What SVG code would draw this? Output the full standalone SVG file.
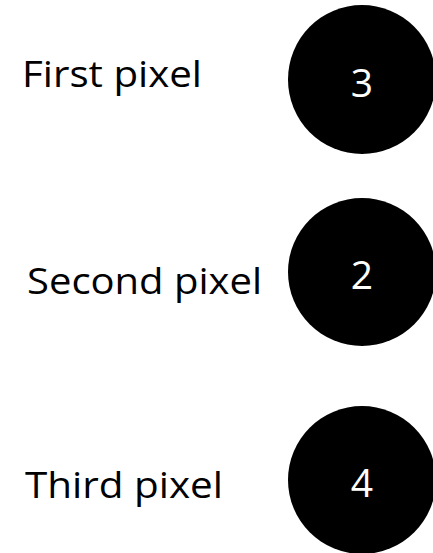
<svg xmlns="http://www.w3.org/2000/svg" width="433" height="553" viewBox="0 0 433 553">
<style>
.lbl{font-family:"Open Sans","Liberation Sans",sans-serif;font-size:37px;fill:#000}
.num{font-family:"Open Sans","Liberation Sans",sans-serif;font-size:39px;fill:#fff;text-anchor:middle}
.dot{fill:#000}
</style>
<rect width="433" height="553" fill="#fff"/>
<g id="first">
<text class="lbl" x="22" y="87" textLength="180" lengthAdjust="spacingAndGlyphs">First pixel</text>
<ellipse class="dot" cx="362" cy="79.5" rx="74" ry="74.5"/>
<text class="num" x="362" y="97">3</text>
</g>
<g id="second">
<text class="lbl" x="27" y="294" textLength="235" lengthAdjust="spacingAndGlyphs">Second pixel</text>
<ellipse class="dot" cx="362" cy="272" rx="74" ry="74"/>
<text class="num" x="362" y="289">2</text>
</g>
<g id="third">
<text class="lbl" x="25" y="498" textLength="198" lengthAdjust="spacingAndGlyphs">Third pixel</text>
<ellipse class="dot" cx="362" cy="480" rx="74" ry="74"/>
<text class="num" x="362" y="497">4</text>
</g>
<g id="connectors"/>
</svg>
